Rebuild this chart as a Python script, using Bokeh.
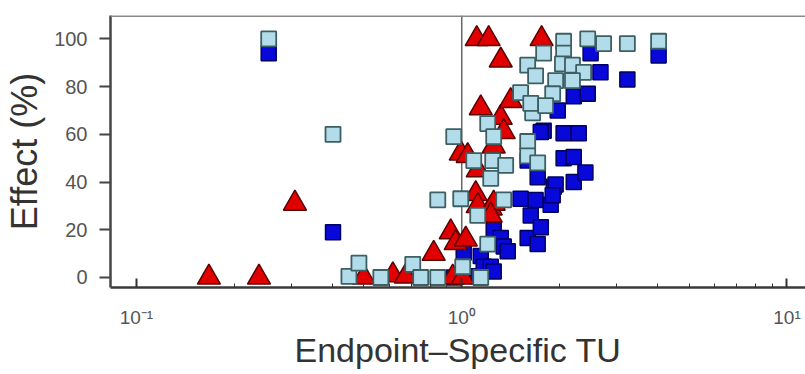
from bokeh.plotting import figure
from bokeh.models import Range1d, FixedTicker, Span
from bokeh.embed import file_html
from bokeh.resources import INLINE

# ---- data ----
red_tu = [0.167, 0.238, 0.307, 0.50, 0.614, 0.673, 0.82, 0.925, 0.958, 0.938, 1.007, 1.029,
          0.993, 1.043, 1.12, 1.104, 1.12, 1.228, 1.254, 1.228, 1.144, 1.318, 1.346, 1.254,
          1.112, 1.21, 1.318, 1.76, 1.414]
red_eff = [0, 0, 31, 0, 1, 0.5, 10, 19, 14.5, 0, 0, 16,
           52, 51, 45, 35, 30, 29, 31, 26, 71, 67, 61, 55,
           100, 100, 91, 100, 74]

lb_tu = [0.255, 0.402, 0.450, 0.483, 0.564, 0.707, 0.748, 0.844, 0.844, 0.993, 0.945, 1.12,
         1.202, 1.007, 1.144, 1.346, 1.202, 1.254, 1.089, 1.245, 1.365, 1.595, 1.595, 1.712,
         1.652, 1.517, 1.63, 1.595, 1.687, 1.786, 2.057, 2.057, 2.44, 2.73, 3.23, 4.03,
         2.04, 2.19, 2.37, 1.944, 2.19, 1.904, 1.811, 1.228]
lb_eff = [100, 60, 0.5, 6, 0, 5.5, 0, 0, 32.5, 33, 59, 26,
          14, 4.5, 0, 32.5, 64.5, 59, 49, 49, 47, 57, 51, 48,
          69, 77.5, 73, 89, 84.5, 94, 99, 94, 100, 98, 98, 99,
          89.5, 89, 86, 82.5, 82.5, 77, 72, 41.5]

db_tu = [0.255, 0.402, 0.945, 1.014, 1.12, 1.144, 1.168, 1.228, 1.254, 1.254, 1.318, 1.346,
         1.385, 1.517, 1.687, 1.877, 1.63, 1.595, 1.712, 1.75, 1.595, 1.712, 1.918, 1.944,
         1.904, 2.21, 2.40, 2.057, 2.21, 1.786, 2.057, 2.29, 1.973, 2.21, 2.44, 2.67,
         3.23, 4.03, 2.49, 1.75]
db_eff = [94, 19, 0, 10.5, 0.5, 9, 4.5, 4.5, 2.5, 20, 16.5, 13,
          11, 33, 32.5, 30.5, 26, 16.5, 14, 21, 49, 42, 38, 39,
          34.5, 40, 44, 50, 50.5, 61.5, 60.5, 60.5, 70, 76, 77, 86,
          83, 93, 94, 61]

x_major = [0.1, 1, 10]
x_labels = ["10\u207b\u00b9", "10\u2070", "10\u00b9"]
x_minor = [0.2, 0.3, 0.4, 0.5, 0.6, 0.7, 0.8, 0.9, 2, 3, 4, 5, 6, 7, 8, 9]
y_ticks = [0, 20, 40, 60, 80, 100]

FONT = "Liberation Sans"

p = figure(width=805, height=374, x_axis_type="log", output_backend="svg",
           toolbar_location=None,
           x_range=Range1d(0.0832, 11.40), y_range=Range1d(-4.2, 109.8),
           min_border_left=110, min_border_right=0, min_border_top=15, min_border_bottom=87)
p.outline_line_color = None
p.grid.visible = False
p.background_fill_color = "white"
p.border_fill_color = "white"

# reference line at TU = 1
p.add_layout(Span(location=1, dimension="height", line_color="#666666", line_width=1.5,
                  level="underlay"))
# top frame line
p.add_layout(Span(location=109.8, dimension="width", line_color="#8a8a8a", line_width=3))

p.scatter(db_tu, db_eff, marker="square", size=15, fill_color="#0808d8",
          line_color="#000060", line_width=1.5)
p.scatter(red_tu, red_eff, marker="triangle", size=23, fill_color="#e00000",
          line_color="#5a0000", line_width=1.5)
p.scatter(lb_tu, lb_eff, marker="square", size=15, fill_color="#b3dcea",
          line_color="#3c5f63", line_width=1.8)

xa = p.xaxis[0]
xa.ticker = FixedTicker(ticks=x_major, minor_ticks=x_minor)
xa.major_label_overrides = {t: l for t, l in zip(x_major, x_labels)}
xa.axis_label = "Endpoint\u2013Specific TU"
xa.axis_label_text_font = FONT
xa.axis_label_text_font_size = "34px"
xa.axis_label_text_font_style = "normal"
xa.axis_label_text_color = "#333333"
xa.axis_label_standoff = 0
xa.major_label_text_font = FONT
xa.major_label_text_font_size = "19px"
xa.major_label_text_color = "#555555"
xa.major_label_standoff = 19
xa.major_tick_in = 9
xa.major_tick_out = 0
xa.minor_tick_in = 4
xa.minor_tick_out = 0
xa.major_tick_line_width = 2
xa.major_tick_line_color = "#333333"
xa.minor_tick_line_color = "#333333"
xa.axis_line_width = 2.5
xa.axis_line_color = "#3a3a3a"

ya = p.yaxis[0]
ya.ticker = FixedTicker(ticks=y_ticks, minor_ticks=[])
ya.axis_label = "Effect (%)"
ya.axis_label_text_font = FONT
ya.axis_label_text_font_size = "36px"
ya.axis_label_text_font_style = "normal"
ya.axis_label_text_color = "#333333"
ya.axis_label_standoff = 6
ya.major_label_text_font = FONT
ya.major_label_text_font_size = "20px"
ya.major_label_text_color = "#555555"
ya.major_label_standoff = 12
ya.major_tick_in = 0
ya.major_tick_out = 11
ya.major_tick_line_width = 2
ya.major_tick_line_color = "#444444"
ya.minor_tick_line_color = None
ya.axis_line_width = 2.5
ya.axis_line_color = "#444444"

open("out.html", "w").write(file_html(p, INLINE))
